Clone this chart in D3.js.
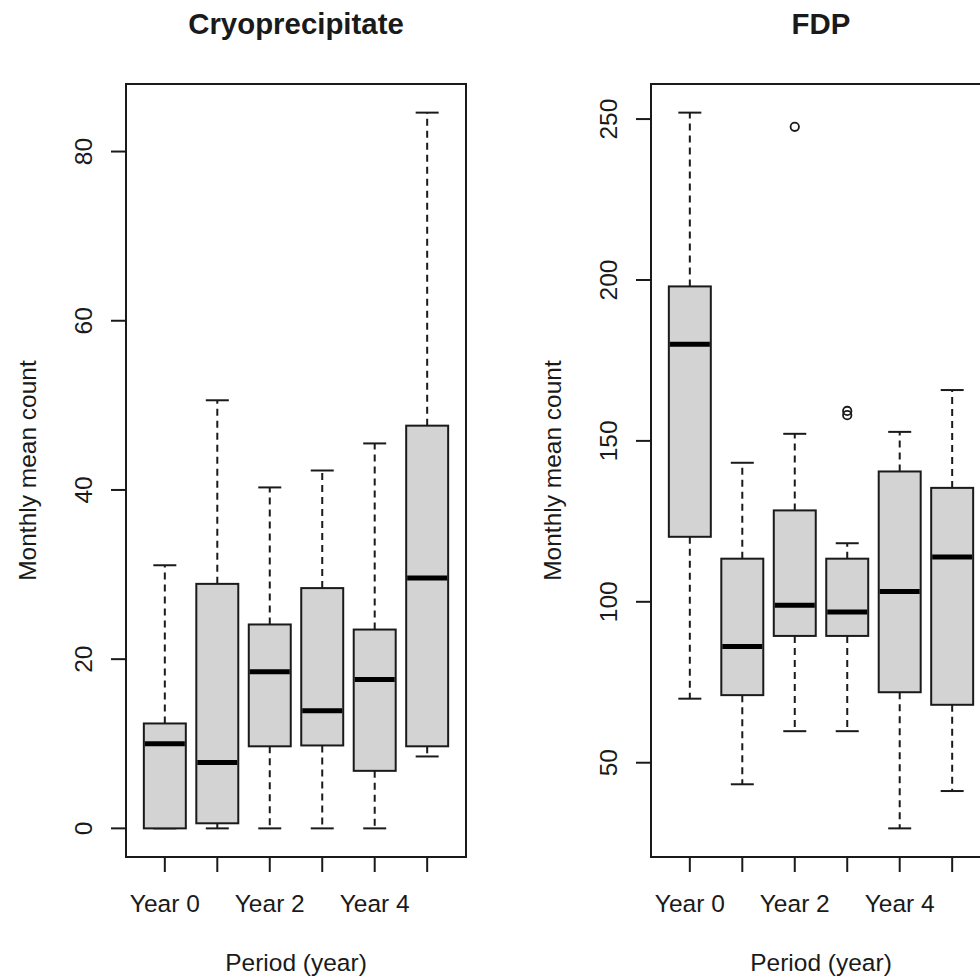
<!DOCTYPE html>
<html>
<head>
<meta charset="utf-8">
<script src="https://cdn.jsdelivr.net/npm/d3@7"></script>
<style>
  html, body { margin: 0; padding: 0; background: #fff; }
  svg { display: block; }
  text { font-family: "Liberation Sans", Arial, sans-serif; fill: #1a1a1a; }
</style>
</head>
<body>
<svg id="chart" width="980" height="977"></svg>
<script>
// ---- Data ----
const categories = ["Year 0", "Year 1", "Year 2", "Year 3", "Year 4", "Year 5"];
const shownLabels = ["Year 0", "Year 2", "Year 4"];

// Cryoprecipitate
const cryoLow    = [0, 0, 0, 0, 0, 8.5];
const cryoQ1     = [0, 0.6, 9.7, 9.8, 6.8, 9.7];
const cryoMedian = [10.0, 7.8, 18.5, 13.9, 17.6, 29.6];
const cryoQ3     = [12.4, 28.9, 24.1, 28.4, 23.5, 47.6];
const cryoHigh   = [31.1, 50.6, 40.3, 42.3, 45.5, 84.6];
const cryoOutliers = [[], [], [], [], [], []];
const cryoTicks  = [0, 20, 40, 60, 80];

// FDP
const fdpLow    = [69.9, 43.3, 59.8, 59.8, 29.6, 41.2];
const fdpQ1     = [120.2, 71.0, 89.4, 89.4, 71.9, 68.0];
const fdpMedian = [180.0, 86.1, 98.9, 96.8, 103.2, 113.9];
const fdpQ3     = [198.0, 113.4, 128.4, 113.4, 140.5, 135.4];
const fdpHigh   = [252.0, 143.2, 152.2, 118.2, 152.8, 165.8];
const fdpOutliers = [[], [], [247.6], [159.3, 158.0], [], []];
const fdpTicks  = [50, 100, 150, 200, 250];

const panels = [
  { title: "Cryoprecipitate", low: cryoLow, q1: cryoQ1, med: cryoMedian, q3: cryoQ3, high: cryoHigh, out: cryoOutliers, ticks: cryoTicks, offset: 0 },
  { title: "FDP", low: fdpLow, q1: fdpQ1, med: fdpMedian, q3: fdpQ3, high: fdpHigh, out: fdpOutliers, ticks: fdpTicks, offset: 525 }
];

// ---- Layout ----
const plotLeft = 126, plotWidth = 340, plotTop = 84, plotBottom = 857;
const fontSize = 24.5;
const ink = "#1a1a1a";

const svg = d3.select("#chart");

panels.forEach(p => {
  const x0 = plotLeft + p.offset, x1 = x0 + plotWidth;
  const g = svg.append("g");

  // x scale: positions 1..n, R-style range 0.5..n+0.5 extended by 4%
  const n = categories.length;
  const xs = d3.scaleLinear()
    .domain([0.5 - 0.04 * n, n + 0.5 + 0.04 * n])
    .range([x0, x1]);
  const unit = xs(2) - xs(1);
  const boxW = 0.8 * unit;
  const capW = 23;

  // y scale: data range extended by 4%
  const allVals = p.low.concat(p.high, p.out.flat());
  const lo = d3.min(allVals), hi = d3.max(allVals);
  const pad = (hi - lo) * 0.04;
  const ys = d3.scaleLinear().domain([lo - pad, hi + pad]).range([plotBottom, plotTop]);

  // frame
  g.append("rect")
    .attr("x", x0).attr("y", plotTop)
    .attr("width", plotWidth).attr("height", plotBottom - plotTop)
    .attr("fill", "none").attr("stroke", ink).attr("stroke-width", 2);

  // y axis ticks
  const yAxis = g.append("g");
  yAxis.selectAll("line").data(p.ticks).join("line")
    .attr("x1", x0).attr("x2", x0 - 15)
    .attr("y1", d => ys(d)).attr("y2", d => ys(d))
    .attr("stroke", ink).attr("stroke-width", 2);
  yAxis.selectAll("text").data(p.ticks).join("text")
    .attr("transform", d => `translate(${x0 - 34},${ys(d)}) rotate(-90)`)
    .attr("text-anchor", "middle")
    .attr("font-size", fontSize)
    .text(d => d);

  // x axis ticks
  const xAxis = g.append("g");
  xAxis.selectAll("line").data(categories).join("line")
    .attr("x1", (d, i) => xs(i + 1)).attr("x2", (d, i) => xs(i + 1))
    .attr("y1", plotBottom).attr("y2", plotBottom + 15)
    .attr("stroke", ink).attr("stroke-width", 2);
  xAxis.selectAll("text").data(categories).join("text")
    .attr("x", (d, i) => xs(i + 1)).attr("y", 912)
    .attr("text-anchor", "middle")
    .attr("font-size", fontSize)
    .text(d => shownLabels.includes(d) ? d : "");

  // boxes
  categories.forEach((c, i) => {
    const cx = xs(i + 1);
    const bg = g.append("g");
    // whiskers (dashed)
    bg.append("line")
      .attr("x1", cx).attr("x2", cx)
      .attr("y1", ys(p.q3[i])).attr("y2", ys(p.high[i]))
      .attr("stroke", ink).attr("stroke-width", 2).attr("stroke-dasharray", "7,5");
    bg.append("line")
      .attr("x1", cx).attr("x2", cx)
      .attr("y1", ys(p.q1[i])).attr("y2", ys(p.low[i]))
      .attr("stroke", ink).attr("stroke-width", 2).attr("stroke-dasharray", "7,5");
    // caps
    [p.high[i], p.low[i]].forEach(v => {
      bg.append("line")
        .attr("x1", cx - capW / 2).attr("x2", cx + capW / 2)
        .attr("y1", ys(v)).attr("y2", ys(v))
        .attr("stroke", ink).attr("stroke-width", 2);
    });
    // box
    bg.append("rect")
      .attr("x", cx - boxW / 2).attr("width", boxW)
      .attr("y", ys(p.q3[i])).attr("height", ys(p.q1[i]) - ys(p.q3[i]))
      .attr("fill", "#d3d3d3").attr("stroke", ink).attr("stroke-width", 2);
    // median
    bg.append("line")
      .attr("x1", cx - boxW / 2 + 1).attr("x2", cx + boxW / 2 - 1)
      .attr("y1", ys(p.med[i])).attr("y2", ys(p.med[i]))
      .attr("stroke", "#000").attr("stroke-width", 5);
    // outliers
    bg.selectAll("circle").data(p.out[i]).join("circle")
      .attr("cx", cx).attr("cy", d => ys(d)).attr("r", 4.2)
      .attr("fill", "none").attr("stroke", ink).attr("stroke-width", 1.8);
  });

  // title
  g.append("text")
    .attr("x", (x0 + x1) / 2).attr("y", 34)
    .attr("text-anchor", "middle")
    .attr("font-size", 29.4).attr("font-weight", "bold")
    .attr("fill", "#000")
    .text(p.title);

  // axis labels
  g.append("text")
    .attr("x", (x0 + x1) / 2).attr("y", 971)
    .attr("text-anchor", "middle")
    .attr("font-size", fontSize)
    .text("Period (year)");
  g.append("text")
    .attr("transform", `translate(${x0 - 90},${(plotTop + plotBottom) / 2}) rotate(-90)`)
    .attr("text-anchor", "middle")
    .attr("font-size", fontSize)
    .text("Monthly mean count");
});
</script>
</body>
</html>
